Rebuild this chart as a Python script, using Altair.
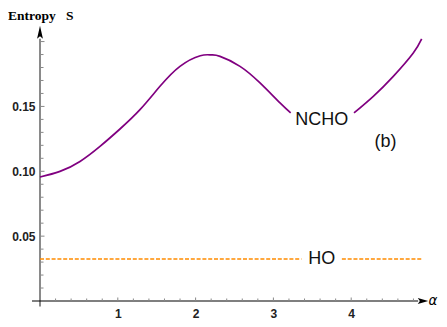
import altair as alt
import pandas as pd

# NCHO curve (two segments, gap for the label)
ncho_x1 = [0.0, 0.257, 0.514, 0.771, 1.028, 1.285, 1.542, 1.799, 2.06, 2.2, 2.314, 2.571, 2.828, 3.085, 3.222]
ncho_y1 = [0.0956, 0.0999, 0.1076, 0.1192, 0.1326, 0.1475, 0.1655, 0.1809, 0.1891, 0.1897, 0.1886, 0.1809, 0.1681, 0.1527, 0.1450]
ncho_x2 = [4.036, 4.284, 4.541, 4.798, 4.906]
ncho_y2 = [0.1450, 0.1578, 0.1732, 0.1912, 0.2020]

# HO constant line (two segments, gap for the label)
ho_value = 0.0324
ho_x1 = [0.0, 3.36]
ho_x2 = [3.88, 4.906]

# labels
labels_text = ["NCHO", "(b)", "HO"]
labels_x = [3.62, 4.44, 3.62]
labels_y = [0.1398, 0.1225, 0.0324]

# axis ticks / labels
x_major = [1, 2, 3, 4]
y_major = [0.05, 0.10, 0.15]
x_minor = [round(0.2 * i, 2) for i in range(1, 25)]
y_minor = [round(0.01 * i, 2) for i in range(1, 21)]

xs = alt.Scale(domain=[0, 5], nice=False, zero=False)
ys = alt.Scale(domain=[0, 0.212], nice=False, zero=False)

x_axis = alt.Axis(values=x_major, format="d", title=None, domain=False, ticks=False, tickSize=0,
                  grid=False, labelPadding=7, labelFont="Liberation Sans", labelFontWeight="bold",
                  labelFontSize=12, labelColor="#222")
y_axis = alt.Axis(values=y_major, format=".2f", title=None, domain=False, ticks=False, tickSize=0,
                  grid=False, labelPadding=5, labelFont="Liberation Sans", labelFontWeight="bold",
                  labelFontSize=12, labelColor="#222")


def X(f):
    return alt.X(f, type="quantitative", scale=xs, axis=x_axis)


def Y(f):
    return alt.Y(f, type="quantitative", scale=ys, axis=y_axis)


ncho_df = pd.DataFrame({
    "x": ncho_x1 + ncho_x2,
    "y": ncho_y1 + ncho_y2,
    "seg": ["a"] * len(ncho_x1) + ["b"] * len(ncho_x2),
})
ho_df = pd.DataFrame({
    "x": ho_x1 + ho_x2,
    "y": [ho_value] * 4,
    "seg": ["a", "a", "b", "b"],
})
lab_df = pd.DataFrame({"t": labels_text, "x": labels_x, "y": labels_y})

# axis lines
yline = alt.Chart(pd.DataFrame({"x": [0], "y": [-0.0042], "y2": [0.2022]})).mark_rule(
    color="#8a8a8a", strokeWidth=2).encode(x=X("x"), y=Y("y"), y2="y2")
xline = alt.Chart(pd.DataFrame({"x": [-0.103], "x2": [4.86], "y": [0]})).mark_rule(
    color="black", strokeWidth=1.2).encode(x=X("x"), x2="x2", y=Y("y"))

xarrow = alt.Chart(pd.DataFrame({"x": [4.923], "y": [0]})).mark_point(
    shape="M-1,-0.55L1,0L-1,0.55L-0.6,0Z", size=110, filled=True, color="black", opacity=1
).encode(x=X("x"), y=Y("y"))
yarrow = alt.Chart(pd.DataFrame({"x": [0], "y": [0.2072]})).mark_point(
    shape="M-0.45,1L0,-1L0.45,1L0,0.6Z", size=169, filled=True, color="black", opacity=1
).encode(x=X("x"), y=Y("y"))

# ticks (inward)
xt_df = pd.DataFrame({"x": x_minor, "major": [abs(v - round(v)) < 1e-6 for v in x_minor]})
xticks_minor = alt.Chart(xt_df[~xt_df.major]).mark_rule(color="#888", strokeWidth=1).encode(
    x=X("x"), y=alt.value(275), y2=alt.value(272.5))
xticks_major = alt.Chart(xt_df[xt_df.major]).mark_rule(color="#888", strokeWidth=1).encode(
    x=X("x"), y=alt.value(275), y2=alt.value(271.5))
yt_df = pd.DataFrame({"y": y_minor, "major": [abs(v * 20 - round(v * 20)) < 1e-6 for v in y_minor]})
yticks_minor = alt.Chart(yt_df[~yt_df.major]).mark_rule(color="#888", strokeWidth=1).encode(
    y=Y("y"), x=alt.value(1), x2=alt.value(3.5))
yticks_major = alt.Chart(yt_df[yt_df.major]).mark_rule(color="#888", strokeWidth=1).encode(
    y=Y("y"), x=alt.value(1), x2=alt.value(4.5))

ncho = alt.Chart(ncho_df).mark_line(color="#800080", strokeWidth=1.7, interpolate="natural").encode(
    x=X("x"), y=Y("y"), detail="seg")
ho = alt.Chart(ho_df).mark_line(color="#FF8C00", strokeWidth=1.4, strokeDash=[4, 1.8]).encode(
    x=X("x"), y=Y("y"), detail="seg")

labels = alt.Chart(lab_df).mark_text(font="Liberation Sans", fontSize=18, color="#111",
                                     align="center", baseline="middle").encode(
    x=X("x"), y=Y("y"), text="t")

alpha = alt.Chart(pd.DataFrame({"x": [5.05], "y": [0.0], "t": ["α"]})).mark_text(
    font="DejaVu Sans", fontStyle="italic", fontSize=13.5, color="black", align="center", baseline="middle"
).encode(x=X("x"), y=Y("y"), text="t")

ent = alt.Chart(pd.DataFrame({"t": ["Entropy"]})).mark_text(
    font="Liberation Serif", fontWeight="bold", fontSize=13.5, color="black", align="left",
    baseline="alphabetic").encode(x=alt.value(-32), y=alt.value(-6.5), text="t")
ess = alt.Chart(pd.DataFrame({"t": ["S"]})).mark_text(
    font="Liberation Serif", fontWeight="bold", fontSize=13.5, color="black", align="left",
    baseline="alphabetic").encode(x=alt.value(26), y=alt.value(-6.5), text="t")

chart = alt.layer(
    yline, xline, xticks_minor, xticks_major, yticks_minor, yticks_major,
    xarrow, yarrow, ho, ncho, labels, alpha, ent, ess
).properties(
    width=389, height=275,
    autosize=alt.AutoSizeParams(type="none"),
    padding={"left": 32, "top": 18, "right": 10, "bottom": 18},
).configure_view(stroke=None)

chart.save("out.html", embed_options={"renderer": "svg", "actions": False})
